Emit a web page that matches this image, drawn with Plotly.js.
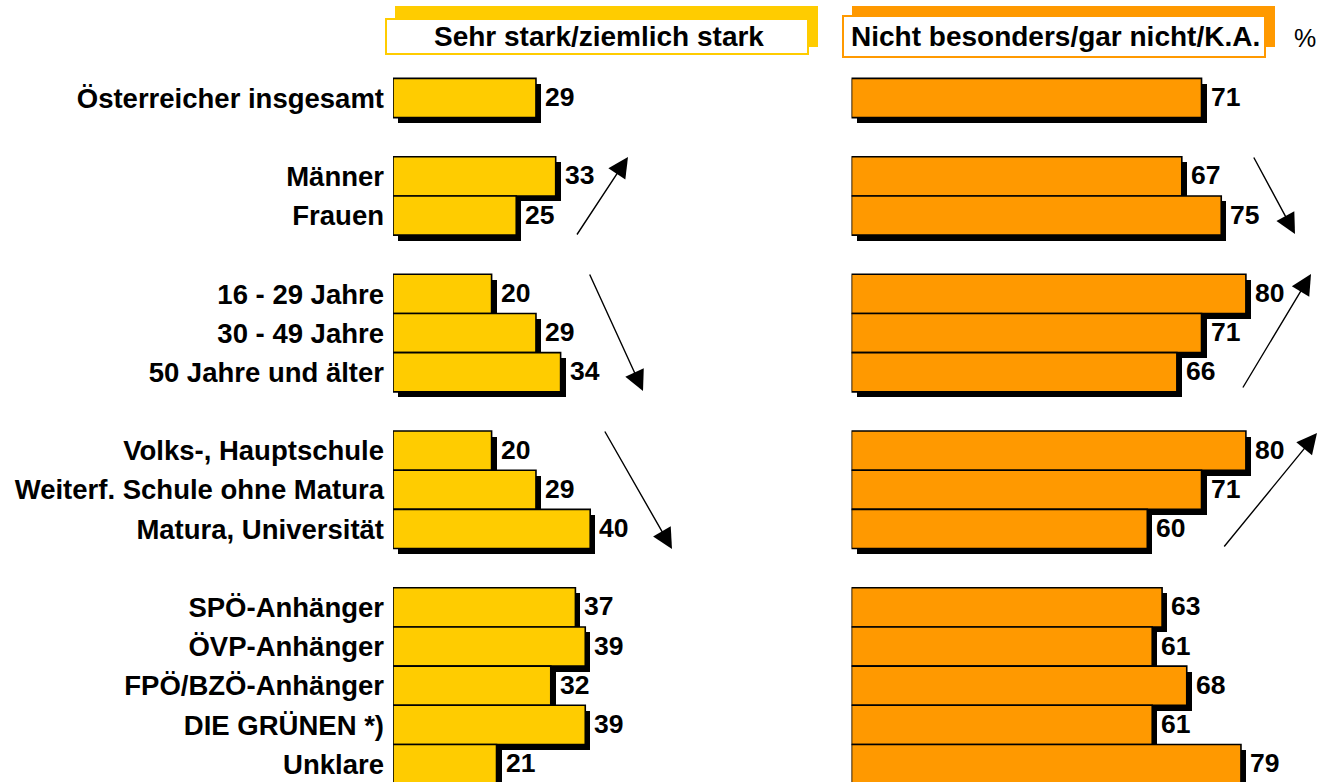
<!DOCTYPE html>
<html>
<head>
<meta charset="utf-8">
<script src="https://cdn.plot.ly/plotly-3.0.1.min.js"></script>
<style>html,body{margin:0;padding:0;background:#fff;}#chart{width:1331px;height:782px;}</style>
</head>
<body>
<div id="chart"></div>
<script>
// ---- data ----
const categories = ['Österreicher insgesamt','Männer','Frauen','16 - 29 Jahre','30 - 49 Jahre','50 Jahre und älter','Volks-, Hauptschule','Weiterf. Schule ohne Matura','Matura, Universität','SPÖ-Anhänger','ÖVP-Anhänger','FPÖ/BZÖ-Anhänger','DIE GRÜNEN *)','Unklare'];
const groupSizes = [1, 2, 3, 3, 5];
const strongValues = [29, 33, 25, 20, 29, 34, 20, 29, 40, 37, 39, 32, 39, 21];
const notStrongValues = [71, 67, 75, 80, 71, 66, 80, 71, 60, 63, 61, 68, 61, 79];
const headerLeft = 'Sehr stark/ziemlich stark';
const headerRight = 'Nicht besonders/gar nicht/K.A.';
const unitLabel = '%';

// ---- layout helpers ----
const W = 1331, H = 782;
const FONT = 'Liberation Sans, Arial, Helvetica, sans-serif';
const YELLOW = '#FFCC00', ORANGE = '#FF9900';
const PX_PER_UNIT = 4.93;
const ROW_PX = 39.18;
const FIRST_ROW_Y = 98;
const SHADOW_DX = 5, SHADOW_DY = 5.5;

// slot positions: one empty slot between groups
const rows = [];
let slot = 0;
groupSizes.forEach(function (n) { for (let i = 0; i < n; i++) rows.push(slot++); slot++; });

const yTop = -FIRST_ROW_Y / ROW_PX;
const yBottom = (H - FIRST_ROW_Y) / ROW_PX;
const leftStart = 393, rightStart = 851.5;
const leftRangeMax = 60;
const rightRangeMax = (W - rightStart) / PX_PER_UNIT;

const px = x => x / W;
const py = y => 1 - y / H;

function barPair(values, xa, color) {
  const shadow = {
    type: 'bar', orientation: 'h', x: values, y: rows, xaxis: xa, yaxis: 'y',
    base: values.map(() => SHADOW_DX / PX_PER_UNIT),
    width: 1, offset: -0.5 + SHADOW_DY / ROW_PX,
    marker: {color: '#000', line: {width: 0}}, hoverinfo: 'skip', showlegend: false
  };
  const main = {
    type: 'bar', orientation: 'h', x: values, y: rows, xaxis: xa, yaxis: 'y',
    width: 1, offset: -0.5,
    marker: {color: color, line: {color: '#000', width: 1.6}}, hoverinfo: 'skip', showlegend: false
  };
  return [shadow, main];
}

const traces = [].concat(barPair(strongValues, 'x', YELLOW), barPair(notStrongValues, 'x2', ORANGE));

const annotations = [];
function valueLabels(values, xref) {
  values.forEach(function (v, i) {
    annotations.push({
      xref: xref, yref: 'y', x: v, y: rows[i], text: String(v), showarrow: false,
      xanchor: 'left', yanchor: 'middle', xshift: 7, yshift: 1,
      font: {family: FONT, size: 26.5, color: '#000', weight: 'bold'}
    });
  });
}
valueLabels(strongValues, 'x');
valueLabels(notStrongValues, 'x2');

// headers
annotations.push({xref: 'paper', yref: 'paper', x: px(599), y: py(37), text: headerLeft, showarrow: false,
  xanchor: 'center', yanchor: 'middle', font: {family: FONT, size: 28, color: '#000', weight: 'bold'}});
annotations.push({xref: 'paper', yref: 'paper', x: px(1055), y: py(37), text: headerRight, showarrow: false,
  xanchor: 'center', yanchor: 'middle', font: {family: FONT, size: 28, color: '#000', weight: 'bold'}});
annotations.push({xref: 'paper', yref: 'paper', x: px(1305), y: py(38), text: unitLabel, showarrow: false,
  xanchor: 'center', yanchor: 'middle', font: {family: FONT, size: 25, color: '#000'}});

// trend arrows [tailX, tailY, tipX, tipY]
const arrows = [
  [576, 236, 628, 157], [589, 273, 643, 391], [604, 430, 672, 549],
  [1253, 156, 1295, 234], [1242, 389, 1311, 274], [1223, 548, 1317, 433]
];
arrows.forEach(function (a) {
  annotations.push({xref: 'paper', yref: 'paper', x: px(a[2]), y: py(a[3]), ax: a[0] - a[2], ay: a[1] - a[3],
    text: '', showarrow: true, arrowhead: 2, arrowsize: 2.9, arrowwidth: 1.4, arrowcolor: '#000', standoff: 0});
});

const shapes = [
  {type: 'rect', xref: 'paper', yref: 'paper', x0: px(395), x1: px(818), y0: py(47), y1: py(6), fillcolor: YELLOW, line: {width: 0}},
  {type: 'rect', xref: 'paper', yref: 'paper', x0: px(386), x1: px(808), y0: py(54), y1: py(19), fillcolor: '#fff', line: {color: YELLOW, width: 2}},
  {type: 'rect', xref: 'paper', yref: 'paper', x0: px(852), x1: px(1275), y0: py(47), y1: py(6), fillcolor: ORANGE, line: {width: 0}},
  {type: 'rect', xref: 'paper', yref: 'paper', x0: px(843), x1: px(1265), y0: py(57), y1: py(16), fillcolor: '#fff', line: {color: ORANGE, width: 2}}
];

const hiddenX = {showgrid: false, zeroline: false, showline: false, showticklabels: false, ticks: '', fixedrange: true, anchor: 'y'};

const layout = {
  width: W, height: H,
  margin: {l: 0, r: 0, t: 0, b: 0, pad: 0},
  paper_bgcolor: '#fff', plot_bgcolor: 'rgba(0,0,0,0)',
  barmode: 'overlay', bargap: 0,
  showlegend: false,
  xaxis: Object.assign({}, hiddenX, {domain: [px(leftStart), px(leftStart + leftRangeMax * PX_PER_UNIT)], range: [0, leftRangeMax]}),
  xaxis2: Object.assign({}, hiddenX, {domain: [px(rightStart), 1], range: [0, rightRangeMax]}),
  yaxis: {
    domain: [0, 1], range: [yBottom, yTop], anchor: 'x',
    showgrid: false, zeroline: false, showline: false, ticks: '',
    tickmode: 'array', tickvals: rows, ticktext: categories,
    ticklabelstandoff: 8,
    tickfont: {family: FONT, size: 27.5, color: '#000', weight: 'bold'},
    fixedrange: true
  },
  shapes: shapes,
  annotations: annotations,
  font: {family: FONT}
};

Plotly.newPlot('chart', traces, layout, {displayModeBar: false, staticPlot: true});
</script>
</body>
</html>
